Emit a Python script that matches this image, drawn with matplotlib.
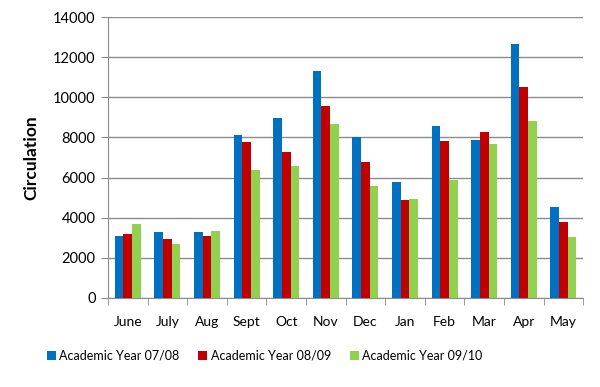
import matplotlib.pyplot as plt
import numpy as np

months = ["June", "July", "Aug", "Sept", "Oct", "Nov",
          "Dec", "Jan", "Feb", "Mar", "Apr", "May"]
year_0708 = [3070, 3270, 3300, 8120, 8980, 11330, 8000, 5800, 8570, 7880, 12670, 4520]
year_0809 = [3180, 2920, 3070, 7750, 7280, 9570, 6800, 4870, 7800, 8270, 10530, 3770]
year_0910 = [3670, 2670, 3330, 6400, 6580, 8670, 5580, 4920, 5900, 7680, 8820, 3050]
series_labels = ["Academic Year 07/08", "Academic Year 08/09", "Academic Year 09/10"]
colors = ["#0070C0", "#C00000", "#92D050"]

plt.rcParams["font.family"] = ["Lato", "DejaVu Sans"]

fig = plt.figure(figsize=(6, 3.87), dpi=100)
ax = fig.add_axes([0.18, 0.23, 0.792, 0.726])

x = np.arange(len(months))
width = 0.22
for k, (vals, lab, col) in enumerate(zip([year_0708, year_0809, year_0910],
                                         series_labels, colors)):
    ax.bar(x + (k - 1) * width, vals, width, color=col, label=lab, zorder=3)

# Axes and grid
ax.set_xlim(-0.5, len(months) - 0.5)
ax.set_ylim(0, 14000)
ax.set_yticks(np.arange(0, 14001, 2000))
ax.yaxis.grid(True, color="#8c8c8c", linewidth=1, zorder=0)
ax.set_xticks(x)
ax.set_xticklabels(months, fontsize=10)
ax.set_xticks(np.arange(-0.5, len(months)), minor=True)
ax.tick_params(axis="x", which="major", length=0, pad=13)
ax.tick_params(axis="x", which="minor", length=5, color="#8c8c8c", direction="out")
ax.tick_params(axis="y", length=5, color="#8c8c8c", labelsize=10.5, pad=4)

for side in ["top", "right"]:
    ax.spines[side].set_visible(False)
for side in ["left", "bottom"]:
    ax.spines[side].set_color("#8c8c8c")

ax.set_ylabel("Circulation", fontsize=12.5, fontweight="bold", labelpad=10)

ax.legend(loc="center", bbox_to_anchor=(0.33, -0.206), ncol=3,
          frameon=False, fontsize=9, handlelength=0.7, handleheight=0.7,
          handletextpad=0.3, columnspacing=1.5)

fig.savefig("out.png", dpi=100)
